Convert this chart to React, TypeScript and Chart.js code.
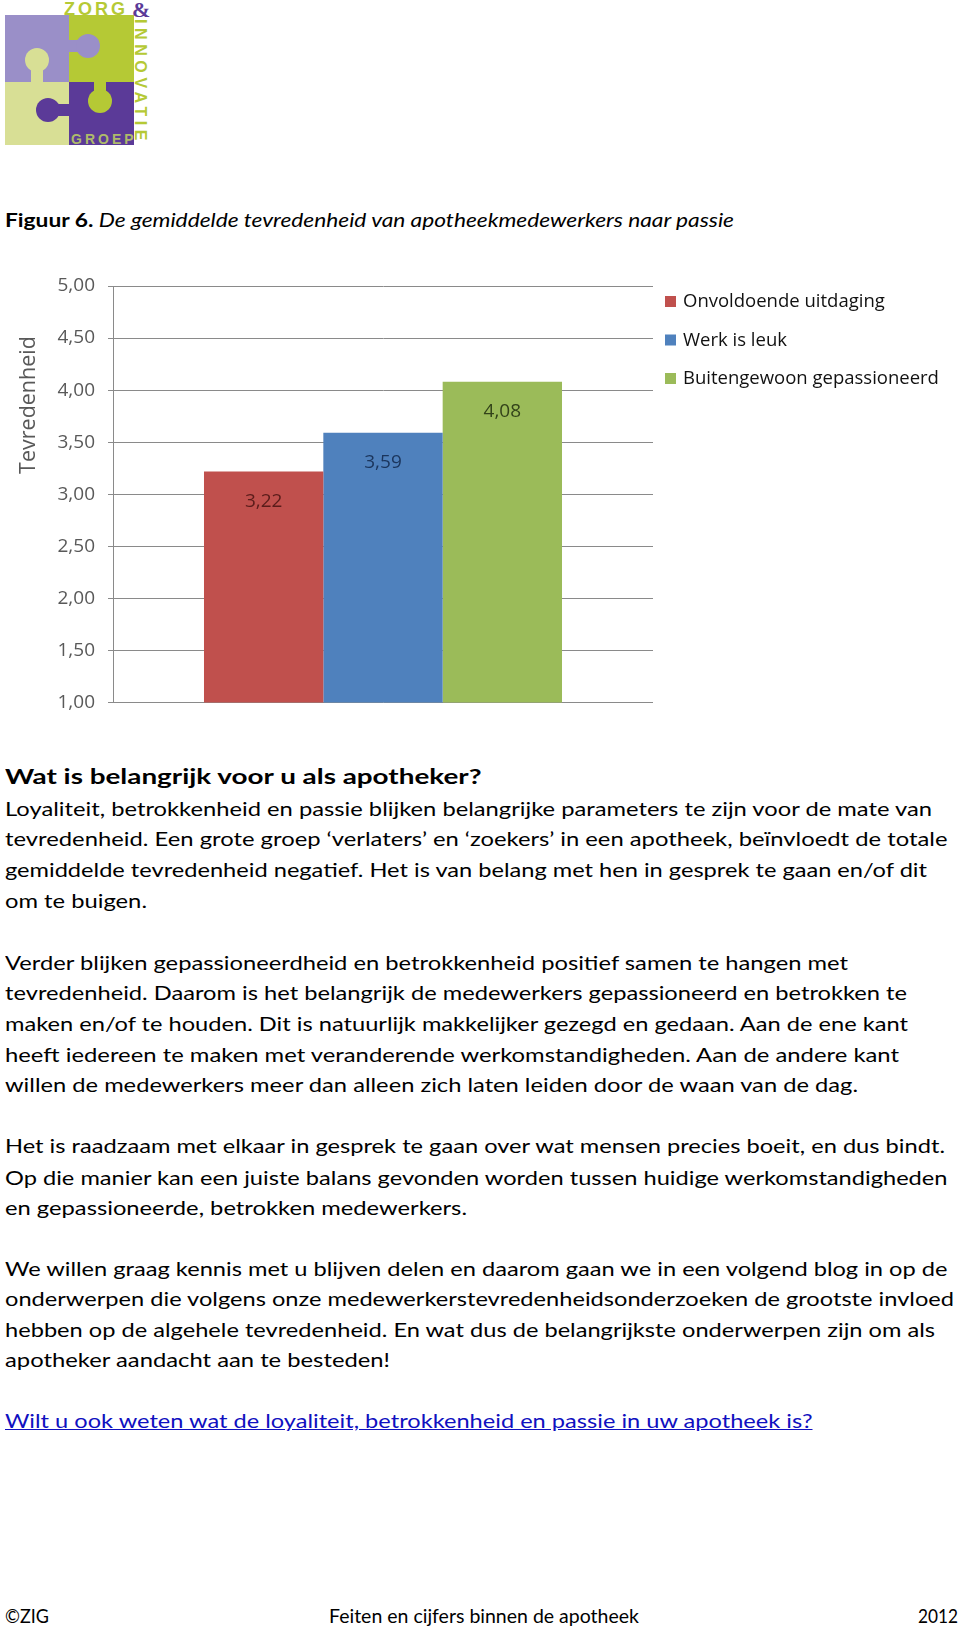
import React, { useEffect, useLayoutEffect, useRef } from "react";
import { Chart, registerables } from "chart.js";

Chart.register(...registerables);

// ---------- chart data ----------
const categories = ["Passie"];
const seriesNames = ["Onvoldoende uitdaging", "Werk is leuk", "Buitengewoon gepassioneerd"];
const onvoldoendeUitdaging = [3.22];
const werkIsLeuk = [3.59];
const buitengewoonGepassioneerd = [4.08];
const seriesColors = ["#C0504D", "#4F81BD", "#9BBB59"];
const labelColors = ["#5A1C1A", "#1B355C", "#33431A"];
const yMin = 1;
const yMax = 5;
const yStep = 0.5;
const yAxisTitle = "Tevredenheid";

const fmt = (v: number) => v.toFixed(2).replace(".", ",");

// ---------- page text ----------
const captionBold = "Figuur 6.";
const captionItalic = " De gemiddelde tevredenheid van apotheekmedewerkers naar passie";
const heading = "Wat is belangrijk voor u als apotheker?";
const bodyLines = [
  "Loyaliteit, betrokkenheid en passie blijken belangrijke parameters te zijn voor de mate van",
  "tevredenheid. Een grote groep \u2018verlaters\u2019 en \u2018zoekers\u2019 in een apotheek, be\u00efnvloedt de totale",
  "gemiddelde tevredenheid negatief. Het is van belang met hen in gesprek te gaan en/of dit",
  "om te buigen.",
  "Verder blijken gepassioneerdheid en betrokkenheid positief samen te hangen met",
  "tevredenheid. Daarom is het belangrijk de medewerkers gepassioneerd en betrokken te",
  "maken en/of te houden. Dit is natuurlijk makkelijker gezegd en gedaan. Aan de ene kant",
  "heeft iedereen te maken met veranderende werkomstandigheden. Aan de andere kant",
  "willen de medewerkers meer dan alleen zich laten leiden door de waan van de dag.",
  "Het is raadzaam met elkaar in gesprek te gaan over wat mensen precies boeit, en dus bindt.",
  "Op die manier kan een juiste balans gevonden worden tussen huidige werkomstandigheden",
  "en gepassioneerde, betrokken medewerkers.",
  "We willen graag kennis met u blijven delen en daarom gaan we in een volgend blog in op de",
  "onderwerpen die volgens onze medewerkerstevredenheidsonderzoeken de grootste invloed",
  "hebben op de algehele tevredenheid. En wat dus de belangrijkste onderwerpen zijn om als",
  "apotheker aandacht aan te besteden!",
];
const linkText = "Wilt u ook weten wat de loyaliteit, betrokkenheid en passie in uw apotheek is?";
const footerLeft = "\u00a9ZIG";
const footerCenter = "Feiten en cijfers binnen de apotheek";
const footerRight = "2012";

// layout of body lines (center y, target width)
const bodyLayout = [
  [808.5, 927], [838.5, 942.5], [869.5, 922], [900.5, 142],
  [962, 843], [992, 902], [1023, 903], [1054, 894], [1084.5, 853],
  [1145.5, 940], [1177, 942.5], [1207, 462],
  [1268, 942.5], [1298, 949], [1329, 930], [1359.5, 385],
];

const BODY_FONT = "Lato, 'Open Sans', sans-serif";
const CHART_FONT = "'Open Sans'";

function FitLine(props: {
  y: number;
  x?: number;
  width: number;
  h?: number;
  style?: React.CSSProperties;
  children: React.ReactNode;
}) {
  const { y, x = 5, width, h = 31, style, children } = props;
  const ref = useRef<HTMLDivElement>(null);
  useLayoutEffect(() => {
    const el = ref.current;
    if (!el) return;
    const fit = () => {
      el.style.transform = "none";
      const nat = el.getBoundingClientRect().width;
      if (nat > 0) el.style.transform = `scaleX(${width / nat})`;
    };
    fit();
    const f: any = (document as any).fonts;
    if (f && f.ready) f.ready.then(fit);
  }, [width]);
  return (
    <div
      ref={ref}
      style={{
        position: "absolute",
        left: x,
        top: y - h / 2,
        height: h,
        lineHeight: h + "px",
        whiteSpace: "nowrap",
        transformOrigin: "0 0",
        fontFamily: BODY_FONT,
        fontSize: 19,
        color: "#000",
        ...style,
      }}
    >
      {children}
    </div>
  );
}

function Logo() {
  const lav = "#9A8FC8";
  const grn = "#B5C935";
  const pale = "#D8DF95";
  const pur = "#5B3A98";
  return (
    <svg width={152} height={150} style={{ position: "absolute", left: 0, top: 0 }}>
      <rect x={5} y={15} width={64} height={67} fill={lav} />
      <rect x={69} y={15} width={65} height={67} fill={grn} />
      <rect x={5} y={82} width={64} height={63} fill={pale} />
      <rect x={69} y={82} width={65} height={63} fill={pur} />
      {/* pale knob into lavender */}
      <rect x={31} y={62} width={12} height={21} fill={pale} />
      <circle cx={37} cy={60} r={12} fill={pale} />
      {/* lavender knob into green */}
      <rect x={68} y={40} width={14} height={12} fill={lav} />
      <circle cx={88} cy={46} r={12} fill={lav} />
      {/* green knob into purple */}
      <rect x={94} y={81} width={12} height={14} fill={grn} />
      <circle cx={100} cy={101} r={12} fill={grn} />
      {/* purple knob into pale */}
      <rect x={52} y={104} width={18} height={12} fill={pur} />
      <circle cx={48} cy={110} r={12} fill={pur} />
      <text x={64} y={15} fontFamily="'Liberation Sans', sans-serif" fontWeight="bold" fontSize={18} fill={grn} letterSpacing={3}>
        ZORG
      </text>
      <text x={132} y={17} fontFamily="'Liberation Serif', serif" fontWeight="bold" fontSize={22} fill={pur}>
        &amp;
      </text>
      <text
        x={0}
        y={0}
        transform="translate(135,19) rotate(90)"
        fontFamily="'Liberation Sans', sans-serif"
        fontWeight="bold"
        fontSize={16}
        fill={grn}
        letterSpacing={4.6}
      >
        INNOVATIE
      </text>
      <text x={71} y={144} fontFamily="'Liberation Sans', sans-serif" fontWeight="bold" fontSize={14} fill="#AEBB6A" letterSpacing={3}>
        GROEP
      </text>
    </svg>
  );
}

function BarChart() {
  const ref = useRef<HTMLCanvasElement>(null);
  useEffect(() => {
    const canvas = ref.current;
    if (!canvas) return;

    const valueLabels = {
      id: "valueLabels",
      afterDatasetsDraw(chart: any) {
        const { ctx } = chart;
        ctx.save();
        ctx.font = `19px ${CHART_FONT}`;
        ctx.textAlign = "center";
        ctx.textBaseline = "middle";
        chart.data.datasets.forEach((ds: any, i: number) => {
          const meta = chart.getDatasetMeta(i);
          meta.data.forEach((bar: any, j: number) => {
            ctx.fillStyle = labelColors[i];
            ctx.fillText(fmt(ds.data[j]), bar.x, bar.y + 30);
          });
        });
        ctx.restore();
      },
    };

    const sideLegend = {
      id: "sideLegend",
      afterDraw(chart: any) {
        const { ctx, chartArea } = chart;
        ctx.save();
        ctx.font = `18.5px ${CHART_FONT}`;
        ctx.textAlign = "left";
        ctx.textBaseline = "middle";
        chart.data.datasets.forEach((ds: any, i: number) => {
          const cy = chartArea.top + 16 + i * 38.5;
          ctx.fillStyle = ds.backgroundColor;
          ctx.fillRect(chartArea.right + 12, cy - 6, 11, 11);
          ctx.fillStyle = "#111";
          ctx.fillText(ds.label, chartArea.right + 30, cy);
        });
        ctx.restore();
      },
    };

    const axisTitle = {
      id: "axisTitle",
      afterDraw(chart: any) {
        const { ctx, chartArea } = chart;
        ctx.save();
        ctx.translate(chartArea.left - 84, chartArea.top + 119);
        ctx.rotate(-Math.PI / 2);
        ctx.font = `21.5px ${CHART_FONT}`;
        ctx.fillStyle = "#595959";
        ctx.textAlign = "center";
        ctx.textBaseline = "middle";
        ctx.fillText(yAxisTitle, 0, 0);
        ctx.restore();
      },
    };

    const seriesData = [onvoldoendeUitdaging, werkIsLeuk, buitengewoonGepassioneerd];

    const chart = new Chart(canvas, {
      type: "bar",
      data: {
        labels: categories,
        datasets: seriesNames.map((name, i) => ({
          label: name,
          data: seriesData[i],
          backgroundColor: seriesColors[i],
          borderWidth: 0,
          categoryPercentage: 0.663,
          barPercentage: 1,
        })),
      },
      options: {
        animation: false,
        responsive: false,
        maintainAspectRatio: false,
        layout: { padding: { top: 26, bottom: 10, left: 0, right: 307 } },
        plugins: {
          legend: { display: false },
          tooltip: { enabled: false },
        },
        scales: {
          x: { display: false },
          y: {
            min: yMin,
            max: yMax,
            ticks: {
              stepSize: yStep,
              callback: (v: any) => fmt(Number(v)),
              font: { family: CHART_FONT, size: 19 },
              color: "#595959",
              padding: 13,
            },
            grid: { color: "#8A8A8A", lineWidth: 1, tickLength: 5, drawTicks: true },
            border: { color: "#8A8A8A", width: 1 },
            afterFit: (s: any) => {
              s.width = 113;
            },
          },
        },
      } as any,
      plugins: [valueLabels, sideLegend, axisTitle],
    });
    return () => chart.destroy();
  }, []);
  return (
    <canvas
      ref={ref}
      width={960}
      height={467}
      style={{ position: "absolute", left: 0, top: 260, width: 960, height: 467, display: "block" }}
    />
  );
}

export default function App() {
  return (
    <div
      style={{
        position: "absolute",
        left: 0,
        top: 0,
        width: 960,
        height: 1628,
        overflow: "hidden",
        background: "#fff",
      }}
    >
      <Logo />
      <FitLine y={219} width={729}>
        <span style={{ fontWeight: "bold" }}>{captionBold}</span>
        <span style={{ fontStyle: "italic" }}>{captionItalic}</span>
      </FitLine>
      <BarChart />
      <FitLine y={775} width={476.5} style={{ fontWeight: "bold", fontSize: 21 }}>
        {heading}
      </FitLine>
      {bodyLines.map((t, i) => (
        <FitLine key={i} y={bodyLayout[i][0]} width={bodyLayout[i][1]}>
          {t}
        </FitLine>
      ))}
      <FitLine y={1420.5} width={807.5} style={{ color: "#1010C0", textDecoration: "underline" }}>
        {linkText}
      </FitLine>
      <FitLine y={1615} x={5} width={44}>
        {footerLeft}
      </FitLine>
      <FitLine y={1615} x={329} width={310}>
        {footerCenter}
      </FitLine>
      <FitLine y={1615} x={918} width={40}>
        {footerRight}
      </FitLine>
    </div>
  );
}
